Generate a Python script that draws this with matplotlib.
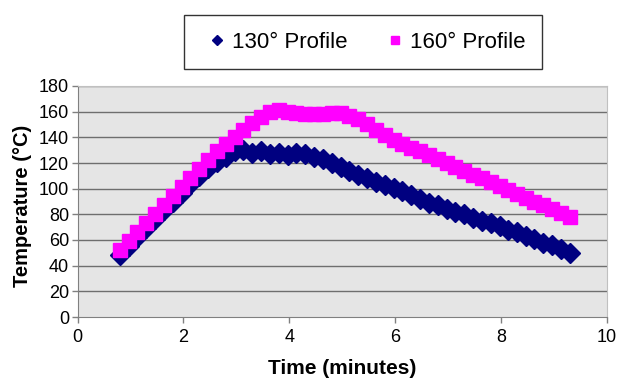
import matplotlib
matplotlib.use("Agg")
import matplotlib.pyplot as plt

plt.rcParams['font.family'] = ['Liberation Sans', 'DejaVu Sans']

time_min = [0.80, 0.97, 1.13, 1.30, 1.47, 1.63, 1.80, 1.97, 2.13, 2.30,
            2.47, 2.63, 2.80, 2.97, 3.13, 3.30, 3.47, 3.63, 3.80, 3.97,
            4.13, 4.30, 4.47, 4.63, 4.80, 4.97, 5.13, 5.30, 5.47, 5.63,
            5.80, 5.97, 6.13, 6.30, 6.47, 6.63, 6.80, 6.97, 7.13, 7.30,
            7.47, 7.63, 7.80, 7.97, 8.13, 8.30, 8.47, 8.63, 8.80, 8.97,
            9.13, 9.30]

profile_130 = [48, 55, 62, 69, 76, 83, 90, 97, 104, 110,
               116, 121, 125, 129, 130, 128, 129, 127, 128, 126,
               128, 127, 125, 123, 120, 117, 114, 111, 108, 105.5,
               103, 100.5, 98, 95, 92, 89, 87, 84, 82, 80,
               77, 75, 73, 71, 68, 66, 63, 61, 58, 56,
               53, 50]

profile_160 = [52, 59, 66, 73, 80, 87, 94, 101, 108, 115,
               122, 129, 135, 140, 146, 151, 156, 160, 161, 160,
               159, 158, 158, 158, 159, 159, 157, 154, 150, 146,
               142, 138, 135, 132, 129, 126, 123, 120, 117, 114,
               111, 108, 105, 102, 99, 96, 93, 90, 87, 84,
               81, 78]

series_labels = ["130\u00b0 Profile", "160\u00b0 Profile"]
x_ticks = [0, 2, 4, 6, 8, 10]
y_ticks = [0, 20, 40, 60, 80, 100, 120, 140, 160, 180]

fig = plt.figure(figsize=(6.19, 3.82), dpi=100)
ax = fig.add_axes([77.5/619, 1-317/382, (607-77.5)/619, (317-86)/382])
ax.set_facecolor('#E5E5E5')

for yv in y_ticks[1:]:
    ax.axhline(yv, color='#6E6E6E', lw=1.0, zorder=1)

ax.plot(time_min, profile_130, linestyle='none', marker='D', markersize=10,
        color='#000080', markeredgecolor='#000080', label=series_labels[0], zorder=3)
ax.plot(time_min, profile_160, linestyle='none', marker='s', markersize=10.5,
        color='#FF00FF', markeredgecolor='#FF00FF', label=series_labels[1], zorder=4)

ax.set_xlim(0, 10)
ax.set_ylim(0, 180)
ax.set_xticks(x_ticks)
ax.set_yticks(y_ticks)
ax.tick_params(axis='both', direction='out', length=4, width=1, color='#808080',
               labelsize=13, labelcolor='#000000', pad=2)
ax.tick_params(axis='x', pad=5)
for s in ['left', 'bottom']:
    ax.spines[s].set_color('#808080')
for s in ['top', 'right']:
    ax.spines[s].set_color('#C0C0C0')

ax.set_xlabel('Time (minutes)', fontsize=15, fontweight='bold', labelpad=9)
ax.set_ylabel('Temperature (\u00b0C)', fontsize=14.5, fontweight='bold')
ax.yaxis.set_label_coords(-0.085, 0.48)

leg = fig.legend(loc='center', ncol=2,
                 bbox_to_anchor=(363/619, 1-42/382),
                 fontsize=16, frameon=True, fancybox=False, edgecolor='#000000',
                 handlelength=1.5, handletextpad=-0.1, columnspacing=1.4,
                 borderpad=0.75, markerscale=0.55)
leg.get_frame().set_linewidth(1.0)

fig.savefig('out.png', dpi=100)
